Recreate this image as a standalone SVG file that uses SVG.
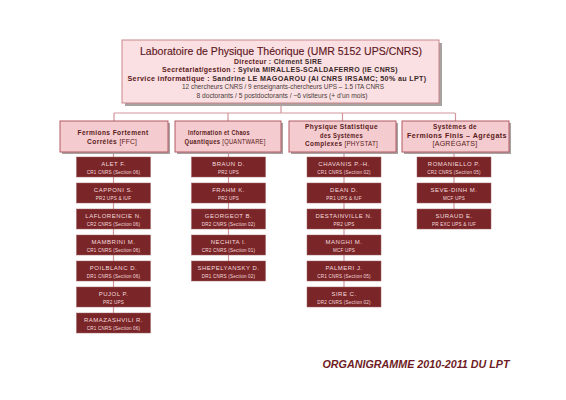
<svg xmlns="http://www.w3.org/2000/svg" width="566" height="400" viewBox="0 0 566 400">
<defs>
<style>
text{font-family:"Liberation Sans",Arial,sans-serif;text-anchor:middle}
.top{fill:#fae0e2;stroke:#c9868c;stroke-width:1}
.sec{fill:#f4cbce;stroke:#b25a62;stroke-width:1}
.shadow{fill:#a9a0a0}
.dark{fill:#7a2629;stroke:#a06065;stroke-width:0.5}
.conn{stroke:#d3959b;stroke-width:1.2;fill:none}
.title{font-size:11.5px;fill:#5e161d;stroke:#5e161d;stroke-width:0.15}
.lbl{font-size:6.6px;font-weight:bold;fill:#5a1a20;letter-spacing:0.3px}
.info{font-size:6.4px;fill:#4a3a3a}
.sect{font-size:6.4px;font-weight:bold;fill:#5a1a20;letter-spacing:0.4px}
.abbr{font-weight:normal;letter-spacing:0.2px}
.nm{font-size:6px;fill:#f4dadd;letter-spacing:0.5px}
.sb{font-size:4.6px;fill:#f4dadd;letter-spacing:0.2px}
.foot{font-size:11px;font-weight:bold;font-style:italic;fill:#6e1c24}
</style>
</defs>

<g id="connectors">
<path class="conn" d="M281 104V113M114 113H455M114 113V121M228 113V121M342.5 113V121M455.5 113V121"/>
<path class="conn" d="M113.5 152V313M228.5 152V261M344 152V287M454 152V209"/>
</g>

<g id="lab">
<rect class="shadow" x="125" y="43" width="317" height="63"/>
<rect class="top" x="122" y="40" width="317" height="63"/>
<text class="title" x="281" y="55" textLength="282" lengthAdjust="spacingAndGlyphs">Laboratoire de Physique Théorique (UMR 5152 UPS/CNRS)</text>
<text class="lbl" x="278" y="63.5" textLength="88" lengthAdjust="spacingAndGlyphs">Directeur : <tspan fill="#3a2a2a">Clément SIRE</tspan></text>
<text class="lbl" x="280" y="72" textLength="236" lengthAdjust="spacingAndGlyphs">Secrétariat/gestion : <tspan fill="#3a2a2a">Sylvia MIRALLES-SCALDAFERRO (IE CNRS)</tspan></text>
<text class="lbl" x="277" y="80.5" textLength="299" lengthAdjust="spacingAndGlyphs">Service informatique : <tspan fill="#3a2a2a">Sandrine LE MAGOAROU (AI CNRS IRSAMC; 50% au LPT)</tspan></text>
<text class="info" x="283" y="89" textLength="202" lengthAdjust="spacingAndGlyphs">12 chercheurs CNRS / 9 enseignants-chercheurs UPS – 1.5 ITA CNRS</text>
<text class="info" x="282" y="97.5" textLength="171" lengthAdjust="spacingAndGlyphs">8 doctorants / 5 postdoctorants / ~6 visiteurs (+ d'un mois)</text>
</g>

<g id="ffc">
<rect class="shadow" x="62" y="123" width="108" height="31"/>
<rect class="sec" x="60" y="121" width="108" height="31"/>
<text class="sect" x="113" y="135" textLength="71" lengthAdjust="spacingAndGlyphs">Fermions Fortement</text>
<text class="sect" x="112" y="144" textLength="50" lengthAdjust="spacingAndGlyphs">Corrélés <tspan class="abbr">[FFC]</tspan></text>
</g>

<g id="quantware">
<rect class="shadow" x="177" y="123" width="106" height="31"/>
<rect class="sec" x="175" y="121" width="106" height="31"/>
<text class="sect" x="219" y="135" textLength="62" lengthAdjust="spacingAndGlyphs">Information et Chaos</text>
<text class="sect" x="225" y="144" textLength="81" lengthAdjust="spacingAndGlyphs">Quantiques <tspan class="abbr">[QUANTWARE]</tspan></text>
</g>

<g id="phystat">
<rect class="shadow" x="291" y="123" width="107" height="31"/>
<rect class="sec" x="289" y="121" width="107" height="31"/>
<text class="sect" x="341.5" y="129" textLength="73" lengthAdjust="spacingAndGlyphs">Physique Statistique</text>
<text class="sect" x="341.5" y="137.5" textLength="43" lengthAdjust="spacingAndGlyphs">des Systèmes</text>
<text class="sect" x="341.5" y="146" textLength="73" lengthAdjust="spacingAndGlyphs">Complexes <tspan class="abbr">[PHYSTAT]</tspan></text>
</g>

<g id="agregats">
<rect class="shadow" x="404" y="123" width="107" height="31"/>
<rect class="sec" x="402" y="121" width="107" height="31"/>
<text class="sect" x="455" y="129" textLength="44" lengthAdjust="spacingAndGlyphs">Systèmes de</text>
<text class="sect" x="457" y="137.5" textLength="100" lengthAdjust="spacingAndGlyphs">Fermions Finis – Agrégats</text>
<text class="sect" x="455" y="146" textLength="45" lengthAdjust="spacingAndGlyphs"><tspan class="abbr">[AGRÉGATS]</tspan></text>
</g>

<g id="col1">
<g id="alet"><rect class="dark" x="76.5" y="157" width="74" height="20"/><text class="nm" x="113.5" y="166">ALET F.</text><text class="sb" x="113.5" y="173.5">CR1 CNRS (Section 06)</text></g>
<g id="capponi"><rect class="dark" x="76.5" y="183" width="74" height="20"/><text class="nm" x="113.5" y="192">CAPPONI S.</text><text class="sb" x="113.5" y="199.5">PR2 UPS &amp; IUF</text></g>
<g id="laflorencie"><rect class="dark" x="76.5" y="209" width="74" height="20"/><text class="nm" x="113.5" y="218">LAFLORENCIE N.</text><text class="sb" x="113.5" y="225.5">CR2 CNRS (Section 06)</text></g>
<g id="mambrini"><rect class="dark" x="76.5" y="235" width="74" height="20"/><text class="nm" x="113.5" y="244">MAMBRINI M.</text><text class="sb" x="113.5" y="251.5">CR1 CNRS (Section 06)</text></g>
<g id="poilblanc"><rect class="dark" x="76.5" y="261" width="74" height="20"/><text class="nm" x="113.5" y="270">POILBLANC D.</text><text class="sb" x="113.5" y="277.5">DR1 CNRS (Section 06)</text></g>
<g id="pujol"><rect class="dark" x="76.5" y="287" width="74" height="20"/><text class="nm" x="113.5" y="296">PUJOL P.</text><text class="sb" x="113.5" y="303.5">PR2 UPS</text></g>
<g id="ramazashvili"><rect class="dark" x="76.5" y="313" width="74" height="20"/><text class="nm" x="113.5" y="322">RAMAZASHVILI R.</text><text class="sb" x="113.5" y="329.5">CR1 CNRS (Section 06)</text></g>
</g>

<g id="col2">
<g id="braun"><rect class="dark" x="191.5" y="157" width="74" height="20"/><text class="nm" x="228.5" y="166">BRAUN D.</text><text class="sb" x="228.5" y="173.5">PR2 UPS</text></g>
<g id="frahm"><rect class="dark" x="191.5" y="183" width="74" height="20"/><text class="nm" x="228.5" y="192">FRAHM K.</text><text class="sb" x="228.5" y="199.5">PR2 UPS</text></g>
<g id="georgeot"><rect class="dark" x="191.5" y="209" width="74" height="20"/><text class="nm" x="228.5" y="218">GEORGEOT B.</text><text class="sb" x="228.5" y="225.5">DR2 CNRS (Section 02)</text></g>
<g id="nechita"><rect class="dark" x="191.5" y="235" width="74" height="20"/><text class="nm" x="228.5" y="244">NECHITA I.</text><text class="sb" x="228.5" y="251.5">CR2 CNRS (Section 01)</text></g>
<g id="shepelyansky"><rect class="dark" x="191.5" y="261" width="74" height="20"/><text class="nm" x="228.5" y="270">SHEPELYANSKY D.</text><text class="sb" x="228.5" y="277.5">DR1 CNRS (Section 02)</text></g>
</g>

<g id="col3">
<g id="chavanis"><rect class="dark" x="307" y="157" width="74" height="20"/><text class="nm" x="344" y="166">CHAVANIS P.-H.</text><text class="sb" x="344" y="173.5">CR1 CNRS (Section 02)</text></g>
<g id="dean"><rect class="dark" x="307" y="183" width="74" height="20"/><text class="nm" x="344" y="192">DEAN D.</text><text class="sb" x="344" y="199.5">PR1 UPS &amp; IUF</text></g>
<g id="destainville"><rect class="dark" x="307" y="209" width="74" height="20"/><text class="nm" x="344" y="218">DESTAINVILLE N.</text><text class="sb" x="344" y="225.5">PR2 UPS</text></g>
<g id="manghi"><rect class="dark" x="307" y="235" width="74" height="20"/><text class="nm" x="344" y="244">MANGHI M.</text><text class="sb" x="344" y="251.5">MCF UPS</text></g>
<g id="palmeri"><rect class="dark" x="307" y="261" width="74" height="20"/><text class="nm" x="344" y="270">PALMERI J.</text><text class="sb" x="344" y="277.5">CR1 CNRS (Section 05)</text></g>
<g id="sire"><rect class="dark" x="307" y="287" width="74" height="20"/><text class="nm" x="344" y="296">SIRE C.</text><text class="sb" x="344" y="303.5">DR2 CNRS (Section 02)</text></g>
</g>

<g id="col4">
<g id="romaniello"><rect class="dark" x="417" y="157" width="74" height="20"/><text class="nm" x="454" y="166">ROMANIELLO P.</text><text class="sb" x="454" y="173.5">CR2 CNRS (Section 05)</text></g>
<g id="sevedinh"><rect class="dark" x="417" y="183" width="74" height="20"/><text class="nm" x="454" y="192">SEVE-DINH M.</text><text class="sb" x="454" y="199.5">MCF UPS</text></g>
<g id="suraud"><rect class="dark" x="417" y="209" width="74" height="20"/><text class="nm" x="454" y="218">SURAUD E.</text><text class="sb" x="454" y="225.5">PR EXC UPS &amp; IUF</text></g>
</g>

<text class="foot" x="416" y="368" textLength="187" lengthAdjust="spacingAndGlyphs">ORGANIGRAMME 2010-2011 DU LPT</text>
</svg>
